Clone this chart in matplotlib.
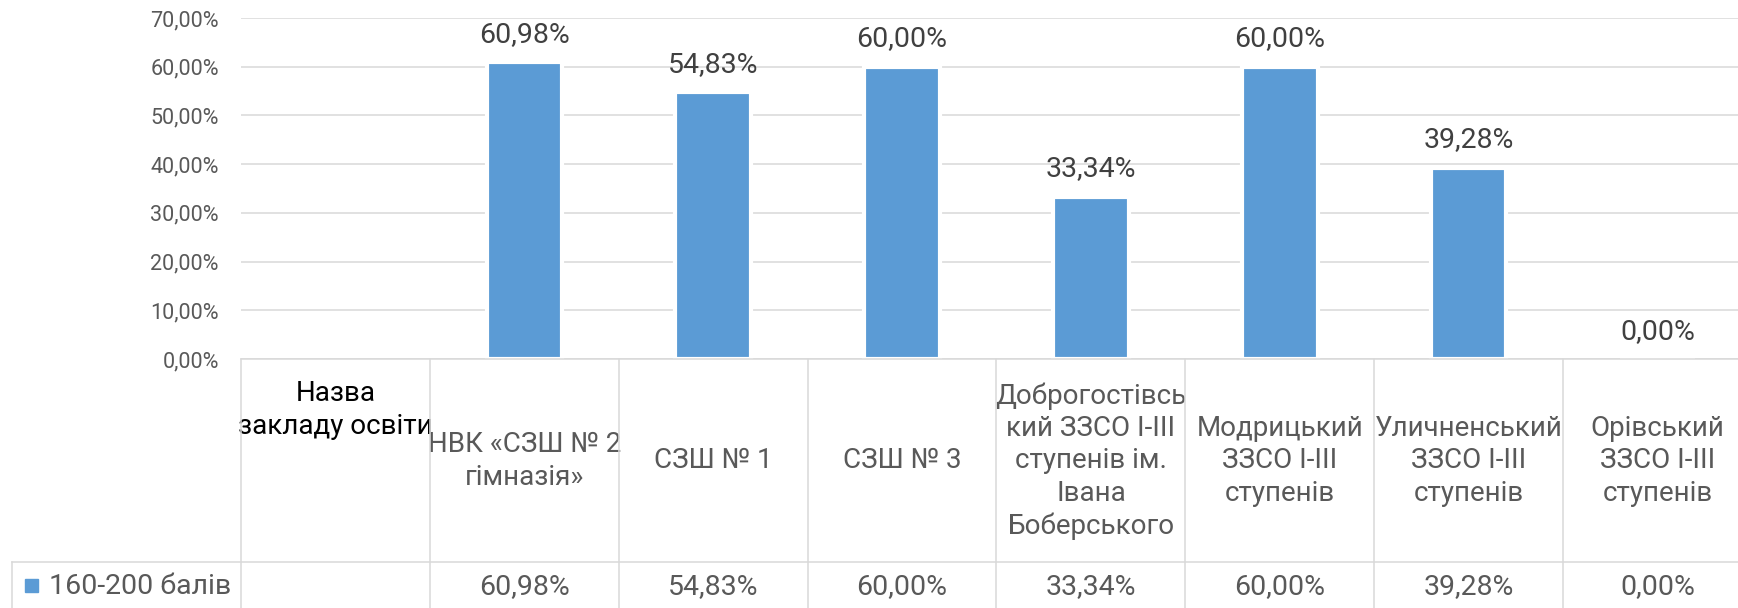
import matplotlib
matplotlib.use("Agg")
import matplotlib.pyplot as plt
from matplotlib.patches import Rectangle
from matplotlib.ticker import FuncFormatter

plt.rcParams['font.family'] = ['Roboto', 'DejaVu Sans']

# data
header_label = "Назва\nзакладу освіти"
schools = [
    "НВК «СЗШ № 2\nгімназія»",
    "СЗШ № 1",
    "СЗШ № 3",
    "Доброгостівсь\nкий ЗЗСО І-ІІІ\nступенів ім.\nІвана\nБоберського",
    "Модрицький\nЗЗСО І-ІІІ\nступенів",
    "Уличненський\nЗЗСО І-ІІІ\nступенів",
    "Орівський\nЗЗСО І-ІІІ\nступенів",
]
values = [60.98, 54.83, 60.00, 33.34, 60.00, 39.28, 0.00]
series_name = "160-200 балів"
yticks = [0, 10, 20, 30, 40, 50, 60, 70]

bar_color = "#5B9BD5"
grid_color = "#D9D9D9"
text_gray = "#595959"
label_gray = "#404040"


def pct(v):
    return f"{v:.2f}%".replace(".", ",")


W, H = 1738, 608
fig = plt.figure(figsize=(W / 100, H / 100), dpi=100)
# plot area in pixels: x 241..1752 (clipped by the image), y 18..359
ax = fig.add_axes([241 / W, (H - 359) / H, (1752 - 241) / W, (359 - 18) / H])

ncols = len(schools) + 1
xs = [i + 1.5 for i in range(len(schools))]
ax.bar(xs, values, width=0.40, color=bar_color, edgecolor="white",
       linewidth=3, zorder=3)

for x, v in zip(xs, values):
    ax.annotate(pct(v), (x, v), xytext=(0, 20), textcoords="offset points",
                ha="center", va="center", fontsize=20.5, color=label_gray)

ax.set_xlim(0, ncols)
ax.set_ylim(0, 70)
ax.set_yticks(yticks)
ax.yaxis.set_major_formatter(FuncFormatter(lambda v, p: pct(v)))
ax.tick_params(axis="y", length=0, pad=16, labelsize=15.5, labelcolor=text_gray)
ax.tick_params(axis="x", length=0, labelbottom=False)
ax.set_xticks([])
ax.grid(axis="y", color=grid_color, linewidth=1.1, zorder=0)
for s in ax.spines.values():
    s.set_visible(False)

# data table under the plot
tr = ax.get_xaxis_transform()
px = 341.0  # axes height in pixels


def ay(ypix):
    return (359 - ypix) / px


row_top, row_mid, row_bot = ay(359), ay(562), ay(640)
lk = dict(color=grid_color, linewidth=1.1, clip_on=False, transform=tr, zorder=4)
ax.plot([0, ncols], [row_top, row_top], **lk)
for i in range(ncols + 1):
    ax.plot([i, i], [row_top, row_bot], **lk)
left_x = (12 - 241) / 188.9
ax.plot([left_x, ncols], [row_mid, row_mid], **lk)
ax.plot([left_x, left_x], [row_mid, row_bot], **lk)

ax.text(0.5, ay(410), header_label, transform=tr, ha="center", va="center",
        fontsize=20, color="black", linespacing=1.25, clip_on=False)
for i, name in enumerate(schools):
    ax.text(i + 1.5, ay(461), name, transform=tr, ha="center", va="center",
            fontsize=20, color=text_gray, linespacing=1.25, clip_on=False)
    ax.text(i + 1.5, ay(587), pct(values[i]), transform=tr, ha="center",
            va="center", fontsize=20.5, color=text_gray, clip_on=False)

# legend key + series name in the row header
ax.add_patch(Rectangle(((25 - 241) / 188.9, ay(592)), 12.7 / 188.9, 13 / px,
                       transform=tr, color=bar_color, clip_on=False))
ax.text((49 - 241) / 188.9, ay(587), series_name, transform=tr, ha="left",
        va="center", fontsize=20.5, color=text_gray, clip_on=False)

fig.savefig("out.png", dpi=100)
